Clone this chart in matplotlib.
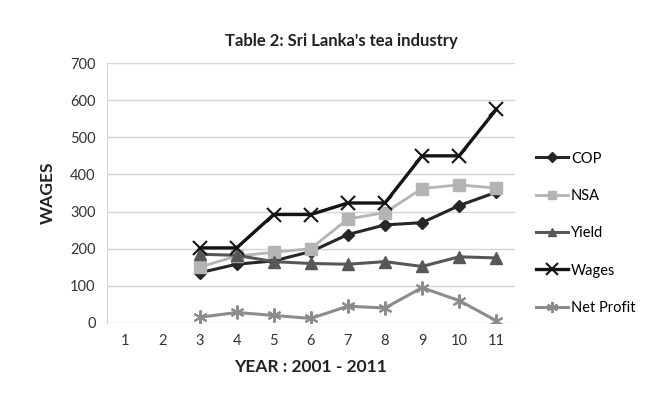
import matplotlib
matplotlib.use("Agg")
import matplotlib.pyplot as plt

plt.rcParams['font.family'] = ['Lato', 'DejaVu Sans']

years = [3, 4, 5, 6, 7, 8, 9, 10, 11]
cop = [135, 158, 167, 192, 238, 264, 270, 316, 352]
nsa = [150, 180, 190, 200, 280, 297, 362, 372, 363]
yld = [185, 182, 165, 160, 158, 165, 152, 178, 175]
wages = [202, 202, 292, 292, 323, 323, 450, 450, 575]
net_profit = [15, 28, 20, 12, 45, 40, 95, 60, 6]
x_ticks = list(range(1, 12))

fig = plt.figure(figsize=(6.72, 4.15), dpi=100)
ax = fig.add_axes([0.159, 0.222, 0.607, 0.626])

ax.plot(years, cop, color='#262626', lw=2.2, marker='D', ms=6, label='COP')
ax.plot(years, nsa, color='#b4b4b4', lw=2.0, marker='s', ms=8, label='NSA')
ax.plot(years, yld, color='#575757', lw=2.2, marker='^', ms=8, label='Yield')
ax.plot(years, wages, color='#141414', lw=2.4, marker='x', ms=10, mew=1.5, label='Wages')
ax.plot(years, net_profit, color='#8c8c8c', lw=2.2, marker=(6, 2, 0), ms=10, mew=1.5,
        label='Net Profit')

ax.set_xlim(0.5, 11.5)
ax.set_ylim(0, 700)
ax.set_xticks(x_ticks)
ax.set_yticks(range(0, 701, 100))
ax.tick_params(length=0, labelsize=10.5, colors='#333333', pad=8)
ax.grid(axis='y', color='#d4d4d4', lw=1)
ax.set_axisbelow(True)
for s in ['top', 'right', 'bottom']:
    ax.spines[s].set_visible(False)
ax.spines['left'].set_color('#d4d4d4')

ax.set_title("Table 2: Sri Lanka's tea industry", fontsize=12, fontweight='bold',
             color='#222222', pad=12, x=0.575)
ax.set_ylabel('WAGES', fontsize=12.5, fontweight='bold', color='#222222', labelpad=10)
ax.set_xlabel('YEAR : 2001 - 2011', fontsize=12.5, fontweight='bold', color='#222222',
              labelpad=8)

ax.legend(loc='center left', bbox_to_anchor=(1.02, 0.345), frameon=False,
          fontsize=10.5, labelspacing=1.6, handlelength=2.2, handletextpad=0.2,
          markerscale=0.8)

fig.savefig('out.png', dpi=100)
